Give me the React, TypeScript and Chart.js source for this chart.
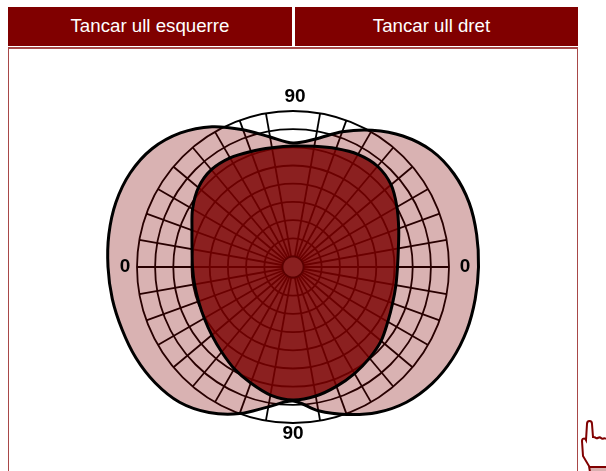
import React, { useEffect, useRef } from "react";
import { Chart, registerables } from "chart.js";

Chart.register(...registerables);

// Meridians every 10 degrees, clockwise from the top
const meridianLabels = [
  "90", "", "", "", "", "", "", "", "", "0", "", "", "", "", "", "", "", "",
  "90", "", "", "", "", "", "", "", "", "0", "", "", "", "", "", "", "", "",
];
const ringValues = [0, 10.5, 28.7, 46.9, 65.1, 83.3, 101.5, 119.7, 137.9, 156];
const hiddenSpokes = [0, 18];

// Outline of the whole visual field (both eyes)
const wholeField = [
  124, 130, 144, 158, 171, 181, 186, 187.5, 186.5, 185.5, 185, 185, 184, 181.5, 176.5, 168, 157, 146,
  134, 142, 156, 168, 176.5, 180, 181.5, 182, 183.5, 185, 187, 188.5, 188, 184, 175, 162, 146, 132,
];
// Outline of the area shared by both eyes
const sharedField = [
  121, 122.5, 126, 130, 131.5, 128, 120, 112.5, 107, 104.5, 104.5, 106, 109.5, 115, 119, 123, 127, 131,
  133, 130, 123.5, 117.5, 111, 106, 102.5, 100.5, 100, 100.5, 102.5, 107.5, 116, 123.5, 127, 126, 123, 121,
];
const centreDisc = [
  10.5, 10.5, 10.5, 10.5, 10.5, 10.5, 10.5, 10.5, 10.5, 10.5, 10.5, 10.5, 10.5, 10.5, 10.5, 10.5, 10.5, 10.5,
  10.5, 10.5, 10.5, 10.5, 10.5, 10.5, 10.5, 10.5, 10.5, 10.5, 10.5, 10.5, 10.5, 10.5, 10.5, 10.5, 10.5, 10.5,
];
const buttonLabels = ["Tancar ull esquerre", "Tancar ull dret"];

const labelGap: Record<number, [number, number]> = {
  0: [14, 2],
  9: [16, 0],
  18: [11, 0],
  27: [12, 0],
};

const meridianText = {
  id: "meridianText",
  afterDraw(chart: any) {
    const scale = chart.scales.r;
    const ctx = chart.ctx;
    ctx.save();
    ctx.font = "bold 19px 'Liberation Sans', Arial, sans-serif";
    ctx.fillStyle = "#000";
    ctx.textAlign = "center";
    ctx.textBaseline = "middle";
    meridianLabels.forEach((label, i) => {
      if (!label) return;
      const [gap, dx] = labelGap[i];
      const p = scale.getPointPosition(i, scale.drawingArea + gap);
      ctx.fillText(label, p.x + dx, p.y);
    });
    ctx.restore();
  },
};

export default function App() {
  const ref = useRef<HTMLCanvasElement>(null);

  useEffect(() => {
    const chart = new Chart(ref.current as HTMLCanvasElement, {
      type: "radar",
      data: {
        labels: meridianLabels,
        datasets: [
          {
            data: centreDisc,
            fill: "start",
            backgroundColor: "#8a2020",
            borderColor: "#5c0000",
            borderWidth: 1.8,
            pointRadius: 0,
            tension: 0.33,
            clip: false,
          },
          {
            data: sharedField,
            fill: "start",
            backgroundColor: "rgba(122,0,0,0.82)",
            borderColor: "#000",
            borderWidth: 3,
            pointRadius: 0,
            tension: 0.33,
            clip: false,
          },
          {
            data: wholeField,
            fill: "start",
            backgroundColor: "rgba(128,0,0,0.3)",
            borderColor: "#000",
            borderWidth: 3,
            pointRadius: 0,
            tension: 0.33,
            clip: false,
          },
        ],
      },
      options: {
        responsive: false,
        animation: false,
        layout: { padding: { left: 98, right: 118, top: 72, bottom: 9 } },
        plugins: { legend: { display: false }, tooltip: { enabled: false } },
        scales: {
          r: {
            min: 0,
            max: 156,
            afterBuildTicks(scale: any) {
              scale.ticks = ringValues.map((value) => ({ value }));
            },
            afterFit(scale: any) {
              scale.drawingArea = 156;
            },
            grid: { circular: true, color: "#000", lineWidth: 1.8 },
            angleLines: {
              display: true,
              color: (c: any) => (hiddenSpokes.includes(c.index) ? "rgba(0,0,0,0)" : "#000"),
              lineWidth: 1.8,
            },
            pointLabels: { display: false },
            ticks: { display: false },
          },
        },
      },
      plugins: [meridianText],
    } as any);
    return () => chart.destroy();
  }, []);

  const button = (left: number, width: number, text: string, extra: number) => (
    <div
      style={{
        position: "absolute",
        left,
        top: 7,
        width: width - extra,
        paddingRight: extra,
        height: 39,
        background: "#800000",
        color: "#fff",
        font: "18.7px 'Liberation Sans', Arial, sans-serif",
        lineHeight: "38px",
        textAlign: "center",
      }}
    >
      {text}
    </div>
  );

  return (
    <div style={{ position: "fixed", left: 0, top: 0, width: 606, height: 471, overflow: "hidden", background: "#fff" }}>
      {button(8, 284, buttonLabels[0], 0)}
      {button(294.5, 283, buttonLabels[1], 9)}
      <div
        style={{
          position: "absolute",
          left: 8,
          top: 47,
          width: 568,
          height: 440,
          borderLeft: "1px solid #a84848",
          borderRight: "1px solid #a84848",
          borderTop: "2px solid #a84848",
        }}
      />
      <canvas ref={ref} width={606} height={471} style={{ position: "absolute", left: 0, top: 0, width: 606, height: 471 }} />
      <svg width={30} height={55} viewBox="0 0 30 55" style={{ position: "absolute", left: 576, top: 418 }}>
        <path d="M14 49 L14 54 L30 54 L30 49 Z" fill="#d8b0b0" stroke="none" />
        <path
          d="M30 21 C28 19 27 22 25 20 C23 18 22 21 20 20 C19 19 18 19 17 19 L16 6 C16 2 11 2 11 6 L10 22 C9 20 6 20 6 23 L7 38 L13 48 L14 54 M14 49 L30 49"
          fill="none"
          stroke="#800000"
          strokeWidth={2}
        />
      </svg>
    </div>
  );
}
